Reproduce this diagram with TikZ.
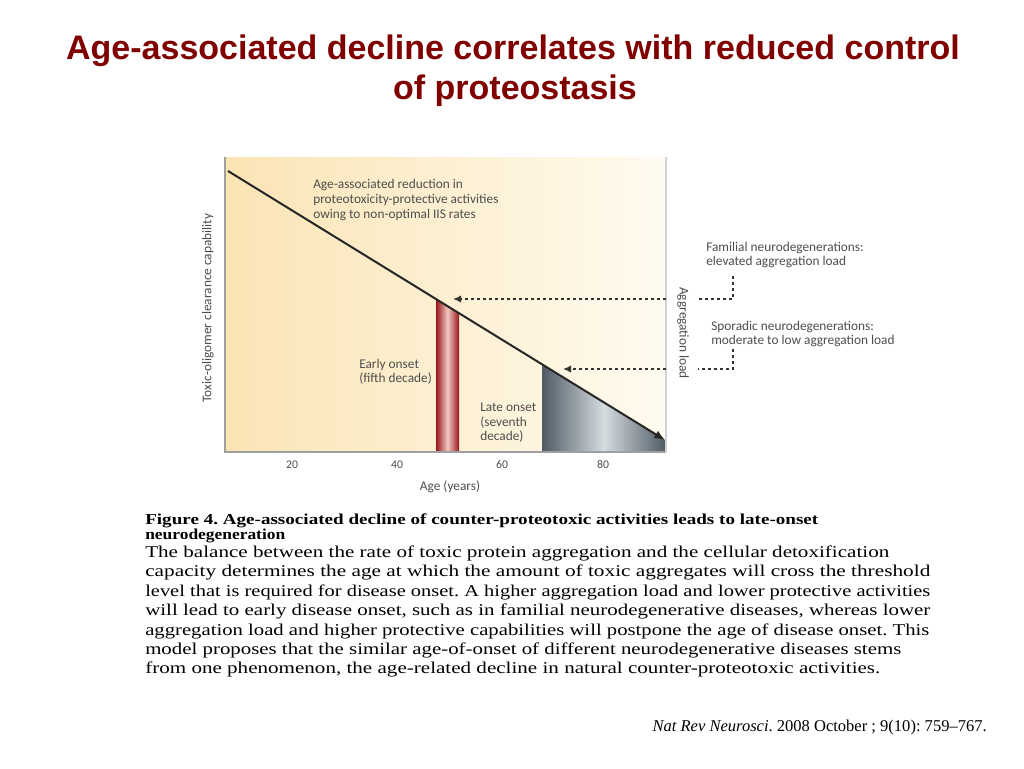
\documentclass[tikz,border=0pt]{standalone}
\usepackage{fontspec}
\setmainfont{Liberation Serif}
\newfontfamily\titlefont{Liberation Sans}
\newfontfamily\chartfont{Carlito}
\usetikzlibrary{arrows.meta}
\definecolor{titlered}{RGB}{128,0,0}
\definecolor{chartgray}{RGB}{78,78,78}
\definecolor{panelleft}{RGB}{250,228,180}
\definecolor{panelright}{RGB}{255,251,240}
\definecolor{onsetdark}{RGB}{150,22,28}
\definecolor{onsetlight}{RGB}{242,200,192}
\definecolor{slatedark}{RGB}{78,90,100}
\definecolor{slatelight}{RGB}{214,220,224}
\frenchspacing

\begin{document}
\begin{tikzpicture}[x=0.75pt, y=-0.75pt,
  heading/.style ={font=\titlefont\bfseries\fontsize{25.5}{30}\selectfont, text=titlered, inner sep=0pt, anchor=base},
  chartlabel/.style ={font=\chartfont\fontsize{10}{10.9}\selectfont, text=chartgray, inner sep=0pt, align=left},
  ticklabel/.style ={font=\chartfont\fontsize{8.8}{9}\selectfont, text=chartgray, inner sep=0pt},
  caption/.style ={anchor=base west, inner sep=0pt, font=\fontsize{12.4}{14.5}\selectfont},
  captionhead/.style ={caption, font=\bfseries\fontsize{11.4}{12}\selectfont},
  loadline/.style ={draw=black!80, line width=2.2pt, dash pattern=on 2.2pt off 2.3pt},
  loadarrow/.style ={loadline, -{Latex[length=6pt,width=5.5pt]}}]
 \useasboundingbox[fill=white] (0,0) rectangle (1024,768);

 \node[heading] (title1) at (513,59) {Age-associated decline correlates with reduced control};
 \node[heading] (title2) at (515,99) {of proteostasis};

 \shade[left color=panelleft, right color=panelright] (225,157) rectangle (666,452);
 \shade[left color=onsetdark, right color=onsetdark, middle color=onsetlight]
   (436,299) -- (459,313.2) -- (459,452) -- (436,452) -- cycle;
 \shade[left color=slatedark, right color=slatedark, middle color=slatelight]
   (542,364.3) -- (666,440.6) -- (666,452) -- (542,452) -- cycle;
 \draw[gray!75, line width=0.9pt] (225,157) -- (225,452) -- (666,452);
 \draw[gray!35, line width=1.2pt] (666,157) -- (666,452);

 \coordinate (lineStart) at (228,171);
 \coordinate (lineEnd) at (665,440);
 \draw[black!85, line width=1.5pt, -{Latex[length=8pt,width=6.5pt]}] (lineStart) -- (lineEnd);

 \node[chartlabel, anchor=west] (reduction) at (313,200) {Age-associated reduction in\\proteotoxicity-protective activities\\owing to non-optimal IIS rates};
 \node[chartlabel, anchor=west] (early) at (359,372) {Early onset\\(fifth decade)};
 \node[chartlabel, anchor=west] (late) at (480,423) {Late onset\\(seventh\\decade)};
 \node[chartlabel, rotate=90] (ylabel) at (208,308) {Toxic-oligomer clearance capability};
 \node[chartlabel, rotate=-90] (loadlabel) at (683,333) {Aggregation load};
 \node[chartlabel] (xlabel) at (450,487) {Age (years)};
 \foreach \age/\xpos in {20/292,40/397,60/502,80/603}
   \node[ticklabel] (tick\age) at (\xpos,465) {\age};

 \node[chartlabel, anchor=west] (familial) at (706,255) {Familial neurodegenerations:\\elevated aggregation load};
 \node[chartlabel, anchor=west] (sporadic) at (711,334) {Sporadic neurodegenerations:\\moderate to low aggregation load};

 \coordinate (famTop) at (733,276);
 \coordinate (famTurn) at (733,299);
 \coordinate (famOut) at (698,299);
 \coordinate (famIn) at (666,299);
 \coordinate (earlyHit) at (453,299);
 \coordinate (spoTop) at (733,349);
 \coordinate (spoTurn) at (733,369);
 \coordinate (spoOut) at (698,369);
 \coordinate (spoIn) at (666,369);
 \coordinate (lateHit) at (563,369);
 \draw[loadline] (famTop) -- (famTurn) -- (famOut);
 \draw[loadarrow] (famIn) -- (earlyHit);
 \draw[loadline] (spoTop) -- (spoTurn) -- (spoOut);
 \draw[loadarrow] (spoIn) -- (lateHit);

 \node[captionhead] (caphead1) at (145,524) {\resizebox{504.75pt}{\height}{Figure 4. Age-associated decline of counter-proteotoxic activities leads to late-onset}};
 \node[captionhead] (caphead2) at (145,539) {\resizebox{105pt}{\height}{neurodegeneration}};
 \node[caption] (capline1) at (145,557) {\resizebox{558pt}{\height}{The balance between the rate of toxic protein aggregation and the cellular detoxification}};
 \node[caption] (capline2) at (145,576) {\resizebox{588.75pt}{\height}{capacity determines the age at which the amount of toxic aggregates will cross the threshold}};
 \node[caption] (capline3) at (145,596) {\resizebox{588.75pt}{\height}{level that is required for disease onset. A higher aggregation load and lower protective activities}};
 \node[caption] (capline4) at (145,615) {\resizebox{588.75pt}{\height}{will lead to early disease onset, such as in familial neurodegenerative diseases, whereas lower}};
 \node[caption] (capline5) at (145,635) {\resizebox{588pt}{\height}{aggregation load and higher protective capabilities will postpone the age of disease onset. This}};
 \node[caption] (capline6) at (145,654) {\resizebox{567pt}{\height}{model proposes that the similar age-of-onset of different neurodegenerative diseases stems}};
 \node[caption] (capline7) at (145,673) {\resizebox{551.25pt}{\height}{from one phenomenon, the age-related decline in natural counter-proteotoxic activities.}};

 \node[caption, anchor=base east] (citation) at (987,731) {\textit{Nat Rev Neurosci}. 2008 October ; 9(10): 759--767.};
\end{tikzpicture}
\end{document}
